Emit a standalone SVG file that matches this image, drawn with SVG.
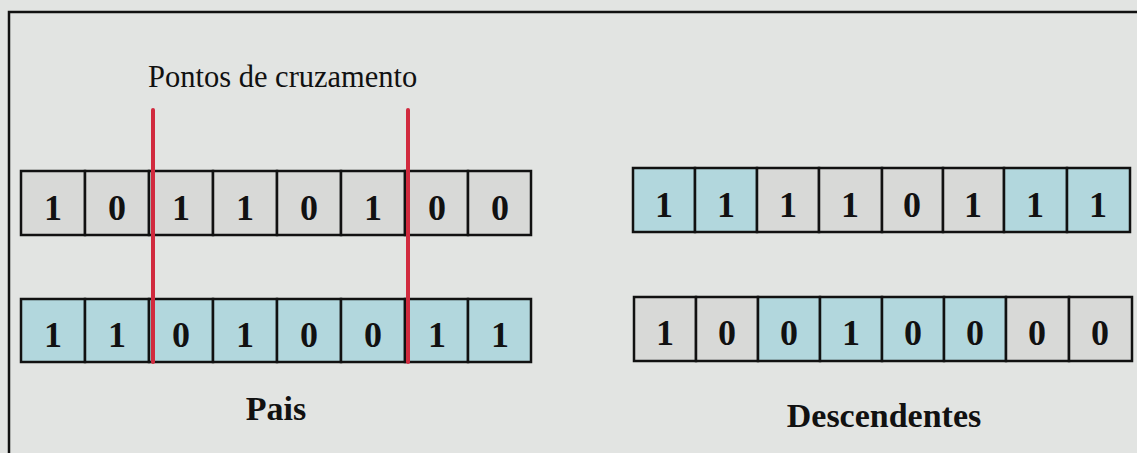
<svg xmlns="http://www.w3.org/2000/svg" width="1137" height="453" viewBox="0 0 1137 453">
<style>
.g{fill:#d8d9d7;stroke:#111;stroke-width:2.5}
.b{fill:#b2d7dd;stroke:#111;stroke-width:2.5}
.d{font-family:"Liberation Serif","Times New Roman",serif;font-weight:bold;font-size:36px;fill:#111;text-anchor:middle}
.lbl{font-family:"Liberation Serif","Times New Roman",serif;font-weight:bold;font-size:34px;fill:#111;text-anchor:middle}
.cut{stroke:#d12a3e;stroke-width:4;stroke-linecap:round;fill:none}
</style>
<rect x="0" y="0" width="1137" height="453" fill="#e2e4e2"/>
<path d="M9,453 V12 H1137" fill="none" stroke="#111" stroke-width="2.5"/>
<g id="title"><text x="148" y="87" font-family="'Liberation Serif','Times New Roman',serif" font-size="30.5" fill="#111">Pontos de cruzamento</text></g>

<g id="pai1">
<rect class="g" x="21" y="171" width="64" height="64"/><text class="d" x="53" y="220">1</text>
<rect class="g" x="85" y="171" width="64" height="64"/><text class="d" x="117" y="220">0</text>
<rect class="g" x="149" y="171" width="64" height="64"/><text class="d" x="181" y="220">1</text>
<rect class="g" x="213" y="171" width="64" height="64"/><text class="d" x="245" y="220">1</text>
<rect class="g" x="277" y="171" width="64" height="64"/><text class="d" x="309" y="220">0</text>
<rect class="g" x="341" y="171" width="64" height="64"/><text class="d" x="373" y="220">1</text>
<rect class="g" x="405" y="171" width="63" height="64"/><text class="d" x="437" y="220">0</text>
<rect class="g" x="468" y="171" width="63" height="64"/><text class="d" x="500" y="220">0</text>
</g>
<g id="pai2">
<rect class="b" x="21" y="299" width="64" height="63"/><text class="d" x="53" y="347">1</text>
<rect class="b" x="85" y="299" width="64" height="63"/><text class="d" x="117" y="347">1</text>
<rect class="b" x="149" y="299" width="64" height="63"/><text class="d" x="181" y="347">0</text>
<rect class="b" x="213" y="299" width="64" height="63"/><text class="d" x="245" y="347">1</text>
<rect class="b" x="277" y="299" width="64" height="63"/><text class="d" x="309" y="347">0</text>
<rect class="b" x="341" y="299" width="64" height="63"/><text class="d" x="373" y="347">0</text>
<rect class="b" x="405" y="299" width="63" height="63"/><text class="d" x="437" y="347">1</text>
<rect class="b" x="468" y="299" width="63" height="63"/><text class="d" x="500" y="347">1</text>
</g>
<g id="desc1">
<rect class="b" x="633" y="168" width="62" height="64"/><text class="d" x="664" y="217">1</text>
<rect class="b" x="695" y="168" width="62" height="64"/><text class="d" x="726" y="217">1</text>
<rect class="g" x="757" y="168" width="62" height="64"/><text class="d" x="788" y="217">1</text>
<rect class="g" x="819" y="168" width="63" height="64"/><text class="d" x="850" y="217">1</text>
<rect class="g" x="882" y="168" width="61" height="64"/><text class="d" x="912" y="217">0</text>
<rect class="g" x="943" y="168" width="61" height="64"/><text class="d" x="973" y="217">1</text>
<rect class="b" x="1004" y="168" width="63" height="64"/><text class="d" x="1035" y="217">1</text>
<rect class="b" x="1067" y="168" width="63" height="64"/><text class="d" x="1098" y="217">1</text>
</g>
<g id="desc2">
<rect class="g" x="634" y="297" width="62" height="64"/><text class="d" x="665" y="345">1</text>
<rect class="g" x="696" y="297" width="62" height="64"/><text class="d" x="727" y="345">0</text>
<rect class="b" x="758" y="297" width="62" height="64"/><text class="d" x="789" y="345">0</text>
<rect class="b" x="820" y="297" width="62" height="64"/><text class="d" x="851" y="345">1</text>
<rect class="b" x="882" y="297" width="62" height="64"/><text class="d" x="913" y="345">0</text>
<rect class="b" x="944" y="297" width="62" height="64"/><text class="d" x="975" y="345">0</text>
<rect class="g" x="1006" y="297" width="63" height="64"/><text class="d" x="1037" y="345">0</text>
<rect class="g" x="1069" y="297" width="63" height="64"/><text class="d" x="1100" y="345">0</text>
</g>
<g id="connectors">
<line class="cut" x1="153" y1="110" x2="153" y2="362"/>
<line class="cut" x1="408" y1="110" x2="408" y2="362"/>
</g>
<g id="labels">
<text class="lbl" x="276" y="420">Pais</text>
<text class="lbl" x="884" y="427">Descendentes</text>
</g>
</svg>
